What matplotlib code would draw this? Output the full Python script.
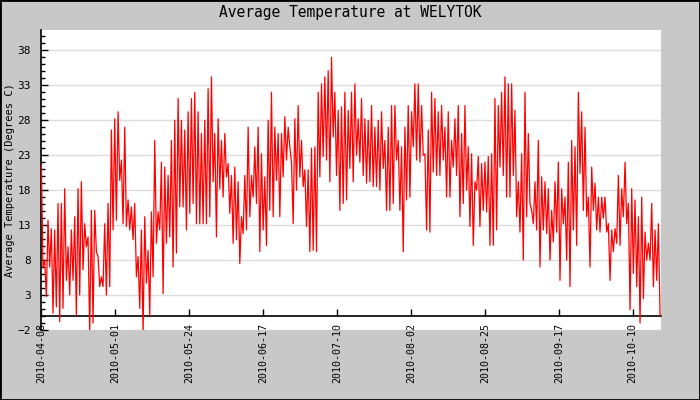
import numpy as np
import matplotlib
matplotlib.use('Agg')
import matplotlib.pyplot as plt
from matplotlib.patches import Rectangle
from matplotlib.ticker import MultipleLocator

plt.rcParams['font.family'] = ['DejaVu Sans Mono']

# readings, one high/low pair per ~1 day bin
highs = [21.6, 8, 13.7, 12.5, 12.3, 16.1, 16.1, 18.2, 9.9, 12.3, 14.2, 18.2, 19.2, 13.2, 11.3,
         15.1, 15.1, 8.5, 5.6, 13.2, 16.1, 26.6, 28.2, 29.2, 22.3, 27, 16.6, 15.6, 16.1, 8.5,
         12.3, 14.2, 9.4, 14.9, 25.1, 14.9, 22, 21.3, 20.1, 25.1, 28, 31.1, 28, 26.6, 29.2,
         31.1, 32, 29.2, 26.1, 28, 32.5, 34.2, 26.1, 28.2, 25.1, 26.1, 21.8, 20.1, 21.3, 19.2,
         14.2, 20.1, 27, 20.1, 24.2, 27, 23.2, 19.9, 28, 32, 27, 26.1, 26.1, 28.5, 27,
         22, 28.2, 30.1, 25.1, 20.9, 20.9, 24, 24.2, 32, 33.2, 34.2, 35.1, 37, 32, 29.4,
         29.9, 32, 29.4,
         32, 33.2, 28.2, 31.1, 28.2, 28, 30.1, 27, 28, 29.2, 25.1, 27, 30.1, 30.1, 25.1,
         24.2, 27, 30.1, 29.2, 33.2, 33.2, 30.1, 23.2, 26.6, 32, 31.1, 29.2, 30.1, 27, 29.2,
         25.1, 28.2, 30.1, 26.1, 30.1, 24.2, 23.2, 19.2, 22.8, 21.8, 22, 22.8,
         23.2, 31.1, 30.1, 32, 34.2, 33.2, 33.2, 29.4, 19.2, 23.2, 32, 26.1, 15.1, 19.2, 25.1,
         19.9, 19.2, 18.2, 15.1, 19.2, 22, 18.2, 17, 22, 25.1, 24.2, 32, 29.2, 27, 17,
         21.3, 19, 17, 17, 17, 13.2, 12.3, 12.5, 20.1, 18.2, 22, 16.1, 18.2, 16.6, 14.2,
         17, 12, 10.4, 16.1, 12.3, 13.2]
lows = [7, 2.8, 7, 0.4, 1.3, -0.8, 1.1, 5.1, 3, 5.1, 0.1, 3, 6.6, 9.9, -2.5,
        -1, 9.2, 4.2, 4.2, 3, 4.2, 12.3, 13.7, 19.4, 13.2, 12.8, 12.3, 10.9, 5.6, 1.1,
        -2.5, 4.7, 0.1, 5.6, 10.4, 12.3, 3.2, 10.4, 11.3, 7, 9, 15.6, 15.6, 12.3, 14.7,
        16.1, 13.2, 13.2, 13.2, 13.2, 14.2, 19.2, 11.3, 18.2, 17, 19.9, 14.7, 10.4, 10.9, 7.5,
        11.8, 12.3, 14.2, 17, 16.1, 9.2, 12.3, 10.1, 15.1, 14.2, 19.4, 14.2, 19.9, 22.3, 24.2,
        13.2, 18, 19.9, 18.5, 12.8, 9.2, 9.4, 9.2, 19.9, 22.8, 22.3, 19.2, 25.6, 20.1, 15.1,
        16.1, 16.6, 21.1,
        19.2, 23, 22, 20.1, 19, 19.2, 18.5, 18.5, 18, 21.1, 15.1, 15.1, 16.1, 22.3, 15.1,
        9.2, 16.6, 17, 24.2, 22.3, 22, 23, 12.3, 12, 20.6, 20.1, 20.1, 22.3, 17, 17,
        21.3, 20.1, 14.2, 16.1, 18, 12.8, 10.1, 18, 12.8, 15.1, 14.9, 10.1,
        10.1, 12.3, 21.3, 20.1, 17, 17, 20.1, 14.2, 12, 8, 14.2, 16.1, 13.2, 12.3, 7,
        12.3, 11.8, 8, 10.6, 12, 5.1, 13.2, 8, 4.2, 12.3, 10.1, 20.4, 15.1, 14.2, 7,
        15.1, 12.3, 12, 14, 12, 5.1, 9.2, 10.4, 10.1, 14.2, 13.2, 0.9, 6.1, 4.2, -1,
        2.5, 8, 8, 4.2, 5.1, 0.1]

tick_days = [0, 23, 46, 69, 92, 115, 138, 161, 184]
tick_labels = ['2010-04-08', '2010-05-01', '2010-05-24', '2010-06-17', '2010-07-10',
               '2010-08-02', '2010-08-25', '2010-09-17', '2010-10-10']
span_days = 192.5

temps = np.column_stack([highs, lows]).ravel()
days = np.linspace(0, span_days, len(temps))  # evenly spaced readings

fig = plt.figure(figsize=(7, 4), dpi=100, facecolor='#C8C8C8')
ax = fig.add_axes([40.7/700, 70/400, 620/700, 300/400])
ax.set_facecolor('white')

# spine position first, it resets the ticks
for s in ['top', 'right']:
    ax.spines[s].set_visible(False)
ax.spines['bottom'].set_position(('data', 0))
ax.spines['bottom'].set_linewidth(1.2)
ax.spines['left'].set_linewidth(1.2)

ax.plot(days, temps, color='red', lw=0.9, zorder=3)

ax.set_xlim(-0.2, 192.7)
ax.set_ylim(-2, 40.9)

ax.set_yticks(np.arange(-2, 39, 5))
ax.yaxis.set_minor_locator(MultipleLocator(1))
ax.grid(axis='y', which='major', color='#DDDDDD', lw=1, zorder=0)
ax.set_axisbelow(True)

ax.set_xticks(tick_days)
ax.set_xticklabels(tick_labels, rotation=90, fontsize=7.2, va='top', ha='center')

ax.tick_params(axis='y', which='major', direction='in', length=5, width=1, pad=7, labelsize=8)
ax.tick_params(axis='y', which='minor', direction='in', length=3, width=1)
ax.tick_params(axis='x', which='major', direction='in', length=5, width=1, pad=5)

ax.set_ylabel('Average Temperature (Degrees C)', fontsize=7.5)
ax.yaxis.set_label_coords(-0.042, 0.5)

fig.text(0.5, 1 - 13/400, 'Average Temperature at WELYTOK', ha='center', va='center',
         fontsize=10.5)

fig.add_artist(Rectangle((0, 0), 1, 1, transform=fig.transFigure, fill=False,
                         edgecolor='black', lw=2))

fig.savefig('out.png', dpi=100, facecolor=fig.get_facecolor())
